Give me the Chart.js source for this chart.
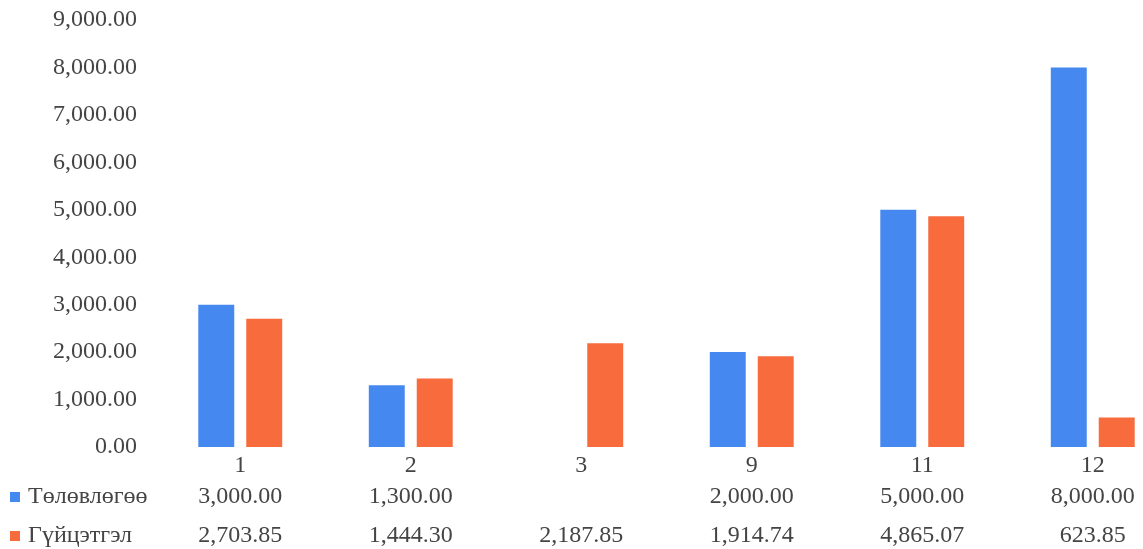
<!DOCTYPE html>
<html>
<head>
<meta charset="utf-8">
<script src="https://cdn.jsdelivr.net/npm/chart.js@4"></script>
<style>
  html, body { margin: 0; padding: 0; background: #fff; overflow: hidden; }
  canvas { display: block; }
</style>
</head>
<body>
<canvas id="c" width="1190" height="549"></canvas>
<script>
const categories = ['1', '2', '3', '9', '11', '12'];
const seriesNames = ['Төлөвлөгөө', 'Гүйцэтгэл'];
const planValues = [3000.00, 1300.00, null, 2000.00, 5000.00, 8000.00];
const actualValues = [2703.85, 1444.30, 2187.85, 1914.74, 4865.07, 623.85];
const seriesColors = ['#4589f0', '#f76b3c'];
const yTicks = [0, 1000, 2000, 3000, 4000, 5000, 6000, 7000, 8000, 9000];

const FONT = '"Liberation Serif", "DejaVu Serif", serif';
const TEXT = '#444444';

const fmt = v => v.toLocaleString('en-US', { minimumFractionDigits: 2, maximumFractionDigits: 2 });

// Data table under the category axis: one row per series with its legend swatch
const dataTable = {
  id: 'dataTable',
  afterDraw(chart) {
    const ctx = chart.ctx;
    const x = chart.scales.x;
    const rows = [planValues, actualValues];
    const rowY = [497, 536];
    ctx.save();
    ctx.font = '24px ' + FONT;
    ctx.textBaseline = 'middle';
    rows.forEach((vals, r) => {
      ctx.fillStyle = seriesColors[r];
      ctx.fillRect(10, rowY[r] - 5, 10, 10);
      ctx.fillStyle = TEXT;
      ctx.textAlign = 'left';
      ctx.fillText(seriesNames[r], 28, rowY[r]);
      ctx.textAlign = 'center';
      vals.forEach((v, i) => {
        if (v === null) return;
        ctx.fillText(fmt(v), x.getPixelForValue(i), rowY[r]);
      });
    });
    ctx.restore();
  }
};

new Chart(document.getElementById('c'), {
  type: 'bar',
  data: {
    labels: categories,
    datasets: [
      { label: seriesNames[0], data: planValues, backgroundColor: seriesColors[0] },
      { label: seriesNames[1], data: actualValues, backgroundColor: seriesColors[1] }
    ]
  },
  options: {
    responsive: false,
    animation: false,
    layout: { padding: { top: 20, right: 12, left: 0, bottom: 0 } },
    datasets: { bar: { categoryPercentage: 0.5625, barPercentage: 0.75 } },
    plugins: { legend: { display: false }, tooltip: { enabled: false } },
    scales: {
      x: {
        grid: { display: false, drawTicks: false },
        border: { display: false },
        ticks: { color: TEXT, font: { family: FONT, size: 24 }, padding: 4 },
        afterFit(s) { s.height = 102; }
      },
      y: {
        min: 0,
        max: 9000,
        afterBuildTicks(s) { s.ticks = yTicks.map(v => ({ value: v })); },
        grid: { display: false, drawTicks: false },
        border: { display: false },
        ticks: { color: TEXT, font: { family: FONT, size: 24 }, padding: 18, callback: v => fmt(v) },
        afterFit(s) { s.width = 155; s.paddingTop = 0; s.paddingBottom = 0; }
      }
    }
  },
  plugins: [dataTable]
});
</script>
</body>
</html>
